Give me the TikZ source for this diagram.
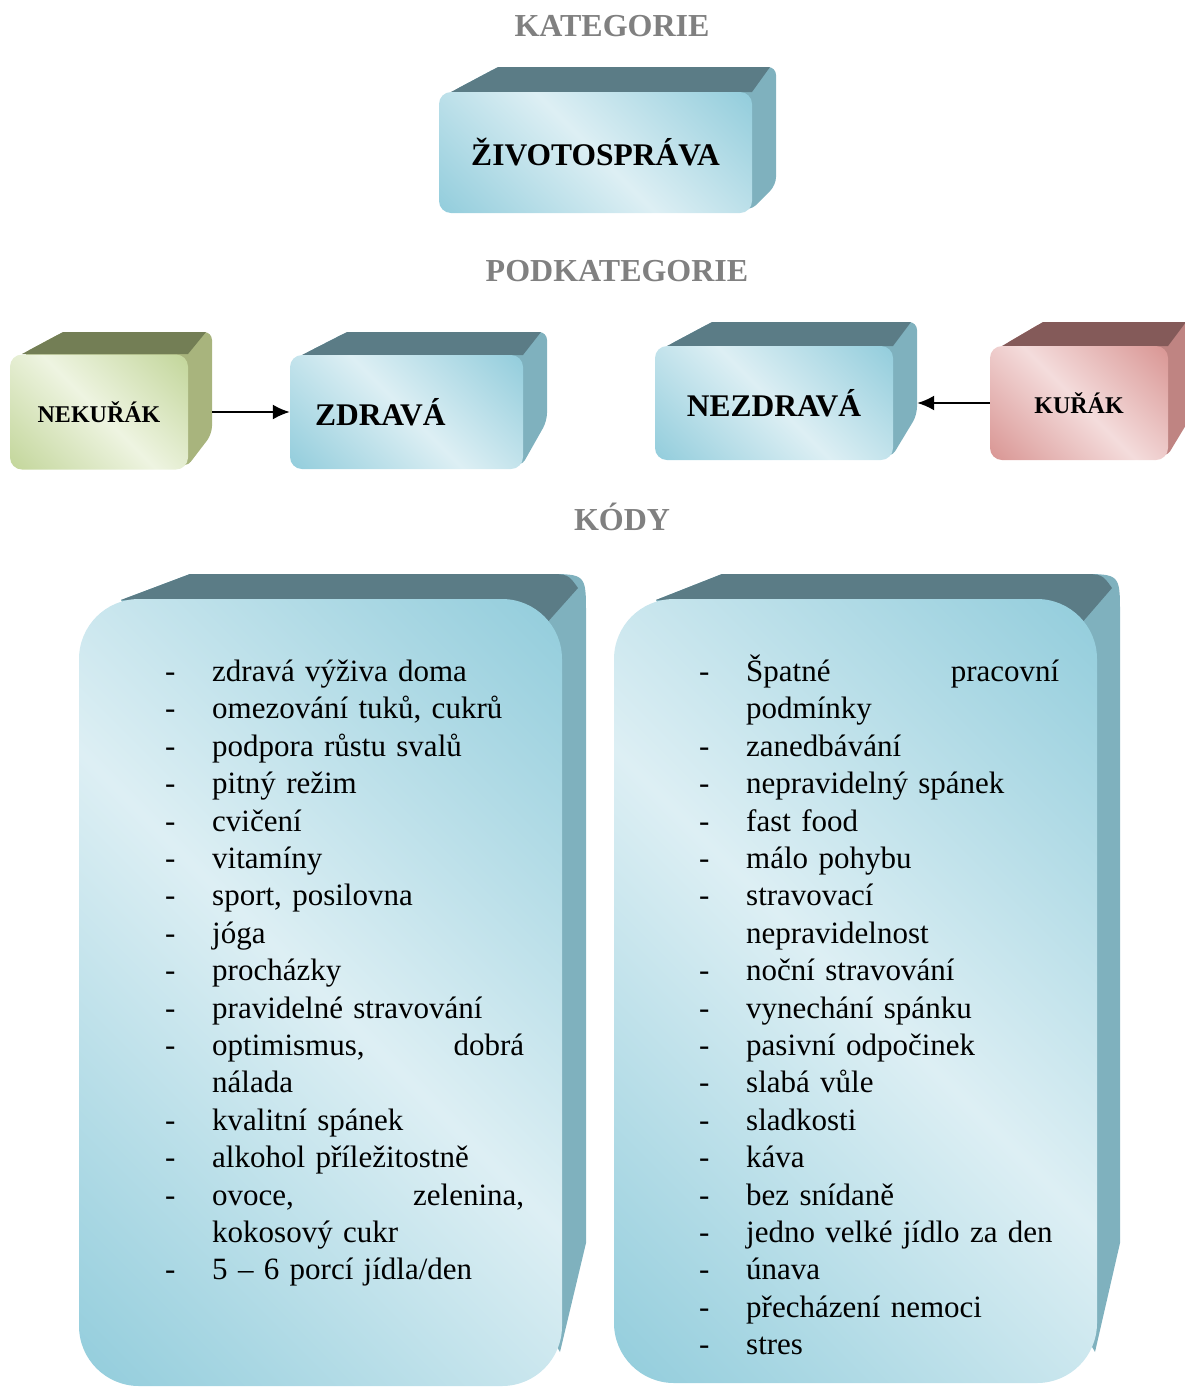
\documentclass[tikz,border=0pt]{standalone}
\usepackage{fontspec}
\setmainfont{Liberation Serif}
\usepackage{xcolor}
\usetikzlibrary{arrows.meta,positioning,backgrounds}

\definecolor{headgray}{HTML}{808080}
\definecolor{tealL}{HTML}{DDEFF4}
\definecolor{tealD}{HTML}{93CDDC}
\definecolor{tealT}{HTML}{5B7C86}
\definecolor{tealS}{HTML}{7FB1BE}
\definecolor{greenL}{HTML}{EEF4E1}
\definecolor{greenD}{HTML}{C3D69B}
\definecolor{greenT}{HTML}{737E55}
\definecolor{greenS}{HTML}{A8B47D}
\definecolor{redL}{HTML}{F4DCDC}
\definecolor{redD}{HTML}{D99694}
\definecolor{redT}{HTML}{845A59}
\definecolor{redS}{HTML}{BF8482}

\pgfdeclarehorizontalshading{tealface}{100bp}{color(0bp)=(tealD); color(15bp)=(tealD); color(50bp)=(tealL); color(85bp)=(tealD); color(100bp)=(tealD)}
\pgfdeclarehorizontalshading{greenface}{100bp}{color(0bp)=(greenD); color(15bp)=(greenD); color(50bp)=(greenL); color(85bp)=(greenD); color(100bp)=(greenD)}
\pgfdeclarehorizontalshading{redface}{100bp}{color(0bp)=(redD); color(15bp)=(redD); color(50bp)=(redL); color(85bp)=(redD); color(100bp)=(redD)}

\newcommand{\kod}[1]{\par\hangindent=47pt\hangafter=1\noindent\makebox[47pt][l]{-}#1}

\begin{document}
\begin{tikzpicture}[
  x=1pt, y=-1pt,
  head/.style={font=\fontsize{32}{38}\selectfont\bfseries, text=headgray},
  face/.style={rectangle, rounded corners=12pt, inner sep=0pt, shade,
    font=\fontsize{31.5}{36}\selectfont\bfseries, shading angle=45},
  tface/.style={face, shading=tealface},
  gface/.style={face, shading=greenface},
  rface/.style={face, shading=redface},
  small/.style={font=\fontsize{24}{28}\selectfont\bfseries},
  kodlist/.style={anchor=base west, text width=#1, align=left, inner sep=0pt,
    font=\fontsize{31}{37.4}\selectfont},
  arr/.style={-{Latex[length=17pt,width=15pt]}, line width=2pt}
]
\useasboundingbox (0,0) rectangle (1184,1387);

% headings
\node[head] (kat) at (612,26) {KATEGORIE};
\node[head] (podkat) at (617,271) {PODKATEGORIE};
\node[head] (kody) at (622,517) {KÓDY};

% front faces
\node[tface, minimum width=313pt, minimum height=121pt] (zivot) at (595.5,152.5) {ŽIVOTOSPRÁVA};
\node[gface, small, minimum width=178pt, minimum height=115pt] (nekurak) at (99,412) {NEKUŘÁK};
\node[tface, minimum width=233pt, minimum height=114pt, text width=183pt, inner xsep=25pt, align=left] (zdrava) at (406.5,412) {ZDRAVÁ};
\node[tface, minimum width=238pt, minimum height=114pt] (nezdrava) at (774,403) {NEZDRAVÁ};
\node[rface, small, minimum width=178pt, minimum height=114pt] (kurak) at (1079,403) {KUŘÁK};
\node[tface, rounded corners=60pt, minimum width=483pt, minimum height=787pt] (zdraveBox) at (320.5,992.5) {};
\node[tface, rounded corners=60pt, minimum width=483pt, minimum height=784pt] (nezdraveBox) at (855.5,991) {};

% depth of the boxes
\begin{scope}[on background layer]
\fill[tealS, rounded corners=8pt] (451,92) -- (498,67) -- (776,67) -- (776,185) -- (750,211) -- cycle;
\fill[tealT] (451,92) -- (498,67) -- (770,67) -- (752,92) -- cycle;
\fill[greenS, rounded corners=8pt] (22,354) -- (63,332) -- (212,332) -- (212,434) -- (186,468) -- cycle;
\fill[greenT] (22,354) -- (63,332) -- (206,332) -- (188,354) -- cycle;
\fill[tealS, rounded corners=8pt] (302,355) -- (347,332) -- (547,332) -- (547,421) -- (521,467) -- cycle;
\fill[tealT] (302,355) -- (347,332) -- (541,332) -- (523,355) -- cycle;
\fill[tealS, rounded corners=8pt] (667,346) -- (712,322) -- (917,322) -- (917,415) -- (891,458) -- cycle;
\fill[tealT] (667,346) -- (712,322) -- (911,322) -- (893,346) -- cycle;
\fill[redS, rounded corners=8pt] (1002,346) -- (1043,322) -- (1192,322) -- (1192,415) -- (1166,458) -- cycle;
\fill[redT] (1002,346) -- (1043,322) -- (1186,322) -- (1168,346) -- cycle;
\fill[tealS] (121,600) -- (190,574) -- (546,574) .. controls (586,574) .. (586,614) -- (586,1243) -- (560,1352) -- cycle;
\fill[tealT] (121,600) -- (190,574) -- (546,574) .. controls (568,574) .. (578,588) -- (545,625) -- (480,600) -- cycle;
\fill[tealS] (656,600) -- (722,574) -- (1080,574) .. controls (1120,574) .. (1120,614) -- (1120,1243) -- (1095,1352) -- cycle;
\fill[tealT] (656,600) -- (722,574) -- (1080,574) .. controls (1102,574) .. (1112,588) -- (1080,625) -- (1014,600) -- cycle;
\end{scope}

% codes
\node[kodlist=359pt] (zdraveKody) at (165,644) {%
  \kod{zdravá výživa doma}
  \kod{omezování tuků, cukrů}
  \kod{podpora růstu svalů}
  \kod{pitný režim}
  \kod{cvičení}
  \kod{vitamíny}
  \kod{sport, posilovna}
  \kod{jóga}
  \kod{procházky}
  \kod{pravidelné stravování}
  \kod{optimismus,\hfill dobrá\newline nálada}
  \kod{kvalitní spánek}
  \kod{alkohol příležitostně}
  \kod{ovoce,\hfill zelenina,\newline kokosový cukr}
  \kod{5 – 6 porcí jídla/den}};
\node[kodlist=360pt] (nezdraveKody) at (699,644) {%
  \kod{Špatné\hfill pracovní\newline podmínky}
  \kod{zanedbávání}
  \kod{nepravidelný spánek}
  \kod{fast food}
  \kod{málo pohybu}
  \kod{stravovací\newline nepravidelnost}
  \kod{noční stravování}
  \kod{vynechání spánku}
  \kod{pasivní odpočinek}
  \kod{slabá vůle}
  \kod{sladkosti}
  \kod{káva}
  \kod{bez snídaně}
  \kod{jedno velké jídlo za den}
  \kod{únava}
  \kod{přecházení nemoci}
  \kod{stres}};

\draw[arr] ([xshift=24pt]nekurak.east) -- (zdrava.west);
\draw[arr] (kurak.west) -- ([xshift=24pt]nezdrava.east);
\end{tikzpicture}
\end{document}
